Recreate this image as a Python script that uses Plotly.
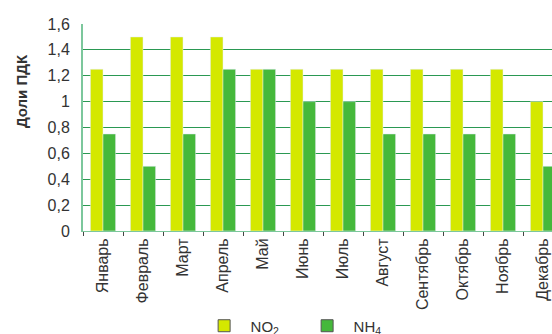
import plotly.graph_objects as go

months = ["Январь", "Февраль", "Март", "Апрель", "Май", "Июнь", "Июль",
          "Август", "Сентябрь", "Октябрь", "Ноябрь", "Декабрь"]
no2 = [1.25, 1.5, 1.5, 1.5, 1.25, 1.25, 1.25, 1.25, 1.25, 1.25, 1.25, 1.0]
nh4 = [0.75, 0.5, 0.75, 1.25, 1.25, 1.0, 1.0, 0.75, 0.75, 0.75, 0.75, 0.5]
y_ticks = [0, 0.2, 0.4, 0.6, 0.8, 1.0, 1.2, 1.4, 1.6]
y_title = "Доли ПДК"

c_no2 = "#d4e800"
c_nh4 = "#45b83b"

fig = go.Figure()
fig.add_trace(go.Bar(x=months, y=no2, marker_color=c_no2, showlegend=False))
fig.add_trace(go.Bar(x=months, y=nh4, marker_color=c_nh4, showlegend=False))
for name, col in [("NO<sub>2</sub>", c_no2), ("NH<sub>4</sub>", c_nh4)]:
    fig.add_trace(go.Scatter(x=[None], y=[None], mode="markers", name=name,
                             marker=dict(symbol="square", size=12, color=col,
                                         line=dict(color="#555555", width=1))))

fig.add_annotation(text="<b>" + y_title + "</b>", xref="paper", yref="paper",
                   x=0, y=0.676, xanchor="center", yanchor="middle", xshift=-62,
                   textangle=-90, showarrow=False,
                   font=dict(size=15, color="#333333"))

fig.update_layout(
    width=552, height=334,
    margin=dict(l=83, r=0, t=24, b=103, autoexpand=False),
    paper_bgcolor="white", plot_bgcolor="white",
    font=dict(family="Liberation Sans, Arial", size=13, color="#333333"),
    barmode="group", bargap=0.37, bargroupgap=0,
    separators=", ",
    legend=dict(orientation="h", xref="container", yref="container",
                x=0.358, y=0.024, xanchor="left", yanchor="middle",
                font=dict(size=15, color="#333333"), itemwidth=43,
                entrywidth=45, entrywidthmode="pixels"),
    xaxis=dict(range=[-0.5, 11.5 - 11 / 40], tickangle=-90, tickson="boundaries",
               ticks="outside", ticklen=4, tickcolor="#444444", automargin=False,
               showline=True, linecolor="#7cc79c", linewidth=1,
               showgrid=False, tickfont=dict(size=16, color="#333333")),
    yaxis=dict(range=[0, 1.6], tickvals=y_ticks, showgrid=True, automargin=False,
               gridcolor="#2a9852", gridwidth=1, zeroline=False,
               showline=True, linecolor="#7cc79c", linewidth=2,
               tickfont=dict(size=16, color="#333333"), ticks="", ticklabelstandoff=8),
)

fig.write_html("out.html", config={"displayModeBar": False},
               post_script="document.body.style.margin='0';document.body.style.overflow='hidden';")
